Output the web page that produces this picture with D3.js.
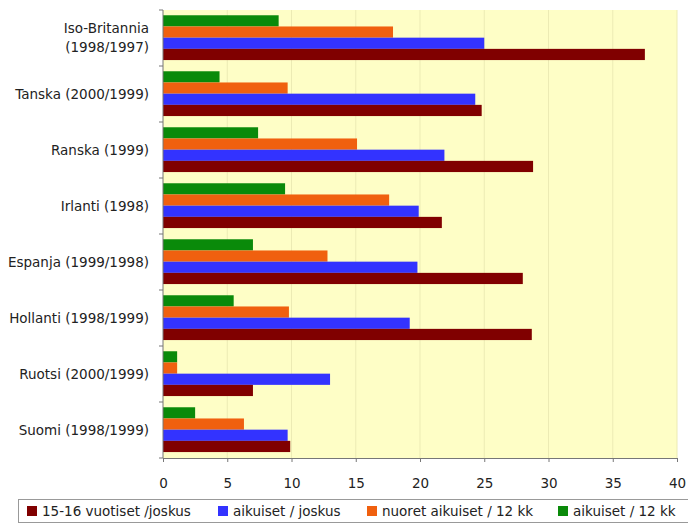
<!DOCTYPE html>
<html><head><meta charset="utf-8">
<script src="https://cdn.jsdelivr.net/npm/d3@7"></script>
<style>body{margin:0;background:#fff;overflow:hidden}svg{display:block}</style>
</head><body><svg id="c" width="688" height="524"></svg>
<script>
const categories = [["Iso-Britannia","(1998/1997)"],["Tanska (2000/1999)"],["Ranska (1999)"],["Irlanti (1998)"],["Espanja (1999/1998)"],["Hollanti (1998/1999)"],["Ruotsi (2000/1999)"],["Suomi (1998/1999)"]];
const seriesNames = ["aikuiset / 12 kk","nuoret aikuiset / 12 kk","aikuiset / joskus","15-16 vuotiset /joskus"];
const seriesColors = ["#0a8a0a","#f0600f","#3333ff","#800000"];
const aikuiset12 = [9.0,4.4,7.4,9.5,7.0,5.5,1.1,2.5];
const nuoret12 = [17.9,9.7,15.1,17.6,12.8,9.8,1.1,6.3];
const aikuisetJoskus = [25.0,24.3,21.9,19.9,19.8,19.2,13.0,9.7];
const nuoretJoskus = [37.5,24.8,28.8,21.7,28.0,28.7,7.0,9.9];
const xTicks = [0,5,10,15,20,25,30,35,40];
const legendOrder = [3,2,1,0];
const values = [aikuiset12,nuoret12,aikuisetJoskus,nuoretJoskus];

const svg = d3.select("#c");
const font = "'DejaVu Sans', sans-serif";
const L=163,R=677,T=10,B=458;
const x = d3.scaleLinear().domain([0,40]).range([L,R]);
const y = d3.scaleBand().domain(d3.range(categories.length)).range([T,B]);
const inner = d3.scaleBand().domain(d3.range(4)).range([0,y.bandwidth()]).paddingOuter(0.5).align(0.47);

svg.append("rect").attr("x",L).attr("y",T).attr("width",R-L).attr("height",B-T).attr("fill","#fefec6");
svg.append("g").selectAll("line").data(xTicks.slice(1)).join("line")
  .attr("x1",d=>x(d)).attr("x2",d=>x(d)).attr("y1",T).attr("y2",B)
  .attr("stroke","#ecebb4").attr("stroke-width",1);

values.forEach((vals,s)=>{
  svg.append("g").selectAll("rect").data(vals).join("rect")
    .attr("x",x(0)).attr("y",(d,i)=>y(i)+inner(s))
    .attr("width",d=>x(d)-x(0)).attr("height",inner.bandwidth())
    .attr("fill",seriesColors[s]);
});

const xa = svg.append("g").attr("transform",`translate(0,${B})`)
  .call(d3.axisBottom(x).tickValues(xTicks).tickSize(4).tickPadding(16));
xa.select(".domain").attr("stroke","#777");
xa.selectAll(".tick line").attr("stroke","#777");
xa.selectAll("text").attr("font-family",font).attr("font-size",13.5).attr("fill","#222");

// y axis
svg.append("line").attr("x1",L).attr("x2",L).attr("y1",T).attr("y2",B).attr("stroke","#777");
svg.append("g").selectAll("line").data(d3.range(categories.length+1)).join("line")
  .attr("x1",L-4).attr("x2",L).attr("y1",i=>T+i*y.step()).attr("y2",i=>T+i*y.step()).attr("stroke","#777");
const lab = svg.append("g").selectAll("text").data(categories).join("text")
  .attr("x",L-14).attr("y",(d,i)=>y(i)+y.bandwidth()/2)
  .attr("text-anchor","end").attr("font-family",font).attr("font-size",13.5).attr("fill","#222");
lab.each(function(d){
  const t=d3.select(this);
  d.forEach((line,k)=>{
    t.append("tspan").attr("x",L-14).attr("dy",k===0?(d.length===1?"0.35em":"-0.35em"):"1.4em").text(line);
  });
});

// legend
svg.append("rect").attr("x",18.5).attr("y",499.5).attr("width",680).attr("height",23).attr("fill","#fff").attr("stroke","#999");
const legX=[27,218,367,558];
legendOrder.forEach((s,k)=>{
  svg.append("rect").attr("x",legX[k]).attr("y",506).attr("width",10).attr("height",10).attr("fill",seriesColors[s]);
  svg.append("text").attr("x",legX[k]+15).attr("y",511).attr("dy","0.35em")
    .attr("font-family",font).attr("font-size",13.5).attr("fill","#222").text(seriesNames[s]);
});
</script></body></html>
